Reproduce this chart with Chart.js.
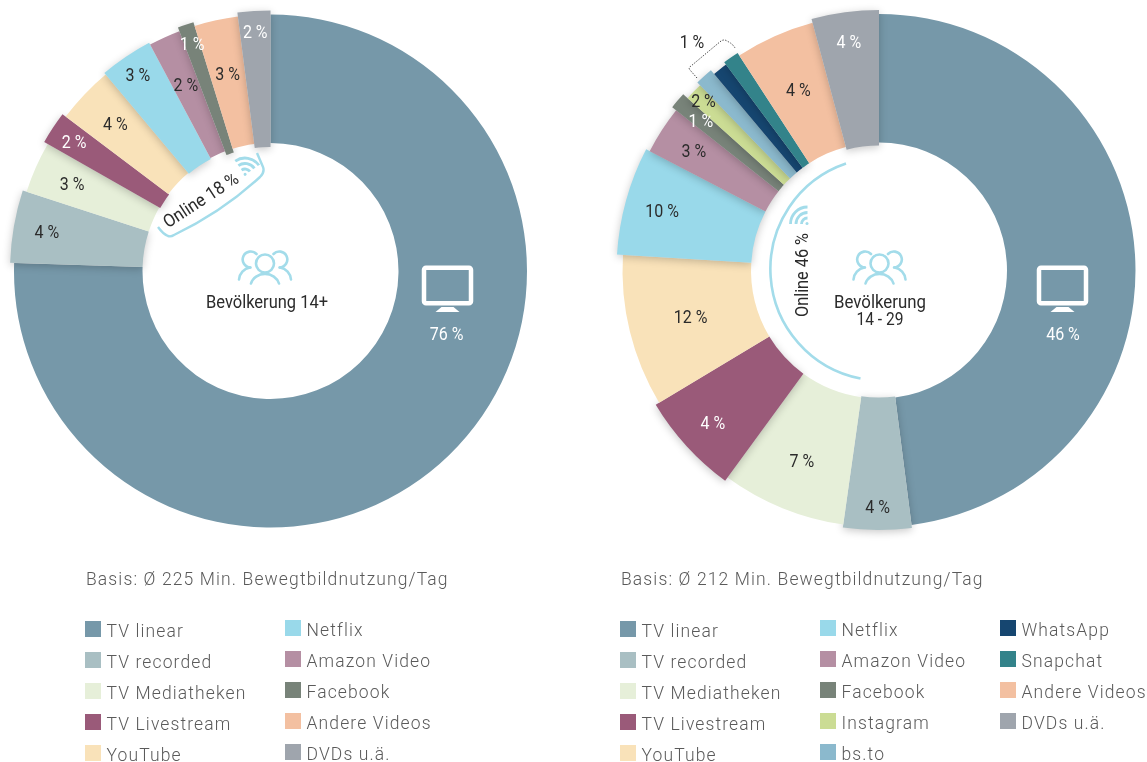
<!DOCTYPE html>
<html><head><meta charset="utf-8">
<script src="https://cdn.jsdelivr.net/npm/chart.js@4"></script>
<style>
html,body{margin:0;padding:0;background:#fff;width:1147px;height:762px;overflow:hidden}
canvas{position:absolute}
#c1{left:0;top:0}
#c2{left:609px;top:0}
svg{position:absolute;left:0;top:0}
.t{font-family:Roboto,sans-serif;fill:#2b2b2b;font-size:18px}
.l{position:absolute;font-family:Roboto,"Liberation Sans",sans-serif;font-weight:300;color:#5a5a5a;font-size:17.5px;letter-spacing:1.12px;white-space:nowrap;line-height:20px}
.s{position:absolute;width:16px;height:16px}
</style></head><body>
<canvas id="c1" width="541" height="542" style="width:541px;height:542px"></canvas>
<canvas id="c2" width="540" height="541" style="width:540px;height:541px"></canvas>
<svg id="ov" width="1147" height="762" xmlns="http://www.w3.org/2000/svg"></svg>
<div id="legend"></div>
<script>
// ---- data
const categoriesA = ["TV linear","TV recorded","TV Mediatheken","TV Livestream","YouTube","Netflix","Amazon Video","Facebook","Andere Videos","DVDs u.ä."];
const sharesA = [75.5,4.5,3.25,2.03,3.61,3.33,2.0,1.0,2.75,2.03];
const printedA = ["76 %","4 %","3 %","2 %","4 %","3 %","2 %","1 %","3 %","2 %"];
const categoriesB = ["TV linear","TV recorded","TV Mediatheken","TV Livestream","YouTube","Netflix","Amazon Video","Facebook","Instagram","bs.to","WhatsApp","Snapchat","Andere Videos","DVDs u.ä."];
const sharesB = [47.97,4.25,7.83,6.33,9.58,6.67,3.0,1.03,1.11,1.11,0.94,1.0,5.0,4.17];
const printedB = ["46 %","4 %","7 %","4 %","12 %","10 %","3 %","1 %","2 %","","","","4 %","4 %"];
// ---- styling
const colorOf = {"TV linear":"#7698a9","TV recorded":"#a9bfc3","TV Mediatheken":"#e6efd9","TV Livestream":"#9a5a79","YouTube":"#f9e2b9","Netflix":"#99d9ea","Amazon Video":"#b58fa3","Facebook":"#788379","Instagram":"#cbdc94","bs.to":"#8bb9cd","WhatsApp":"#164670","Snapchat":"#33838a","Andere Videos":"#f3c0a1","DVDs u.ä.":"#9fa5ad"};
const lightLabel = new Set(["TV linear","TV Livestream","Facebook","DVDs u.ä."]);
const growA = [0,[4,0],0,[4,1],0,[2,1],0,[4,4],0,[4,4]];
const growB = [0,[3,1],0,[4,0],0,[6,0],[2,0],[7,0],[1,0],[5,0],[0,0],[3,0],0,[4,3]];
const labelRA = [187,227,217,235,214,237,205,241,202,239.5];
const labelAA = [109.6,null,null,null,null,null,null,null,null,null];
const labelRB = [194.6,236.5,205,225,194,225,220.5,233,244,0,0,0,198,230.5];
const labelAB = [109,null,null,null,null,null,null,null,null,null,null,null,null,null];

const popPlugin = {
  id:'pop',
  afterDatasetUpdate(chart){
    const cfg = chart.options.plugins.pop;
    chart.getDatasetMeta(0).data.forEach((arc,i)=>{
      const g = cfg.grow[i];
      if(!g) return;
      arc.outerRadius += g[0];
      arc.innerRadius -= g[1];
      const proto = Object.getPrototypeOf(arc);
      arc.draw = function(ctx,area){
        ctx.save();
        ctx.shadowColor='rgba(0,0,0,.22)';ctx.shadowBlur=9;ctx.shadowOffsetX=0;ctx.shadowOffsetY=2;
        proto.draw.call(this,ctx,area);
        ctx.restore();
      };
    });
  },
  afterDatasetsDraw(chart){
    const cfg = chart.options.plugins.pop, ctx = chart.ctx;
    const arcs = chart.getDatasetMeta(0).data;
    arcs.forEach((arc,i)=>{
      const txt = cfg.printed[i]; if(!txt) return;
      const mid = (arc.startAngle+arc.endAngle)/2;
      const a = cfg.labelA[i]==null ? mid : (cfg.labelA[i]-90)*Math.PI/180;
      const r = cfg.labelR[i];
      ctx.save();
      ctx.textAlign='center';ctx.textBaseline='middle';
      ctx.font='18px Roboto,sans-serif';
      ctx.fillStyle = lightLabel.has(chart.data.labels[i]) ? '#ffffff' : '#2b2b2b';
      ctx.translate(arc.x+Math.cos(a)*r, arc.y+Math.sin(a)*r+2);
      ctx.scale(.89,1);
      ctx.fillText(txt,0,0);
      ctx.restore();
    });
  }
};
function donut(id,cats,vals,printed,grow,labelR,labelA){
  return new Chart(document.getElementById(id),{
    type:'doughnut',
    plugins:[popPlugin],
    data:{labels:cats,datasets:[{data:vals,backgroundColor:cats.map(c=>colorOf[c]),borderWidth:0}]},
    options:{responsive:false,animation:false,radius:256.5,cutout:'49.9%',
      layout:{padding:0},
      plugins:{legend:{display:false},tooltip:{enabled:false},pop:{grow,printed,labelR,labelA}}}
  });
}
donut('c1',categoriesA,sharesA,printedA,growA,labelRA,labelAA);
donut('c2',categoriesB,sharesB,printedB,growB,labelRB,labelAB);

// ---- annotations (icons, captions)
const BL='#a3dcea';
function people(x,y){return `<g transform="translate(${x} ${y})" fill="none" stroke="${BL}" stroke-width="2.6" stroke-linecap="round">
<circle cx="0" cy="-1" r="9"/><path d="M-14 19a14.5 13 0 0 1 28 0"/>
<path d="M-8.5 -10.5a8 8 0 1 0-6 13.5M8.5 -10.5a8 8 0 1 1 6 13.5"/><path d="M-26 15a13 13 0 0 1 11-12M26 15a13 13 0 0 0-11-12"/></g>`}
function tv(x,y){return `<g transform="translate(${x} ${y})"><rect x="-23.500" y="-17.800" width="47" height="35.500" rx="2" fill="none" stroke="#fff" stroke-width="4.500"/><path d="M-6 21.500h12l6 5h-24z" fill="#fff"/></g>`}
function wifi(x,y,rot){return `<g transform="translate(${x} ${y}) rotate(${rot})" fill="none" stroke="${BL}" stroke-width="2.800"><path d="M-6 0a6 6 0 0 1 6-6M-11.500 0a11.500 11.500 0 0 1 11.500-11.500M-17 0a17 17 0 0 1 17-17"/><circle cx="-.500" cy="-.500" r="1.500" fill="${BL}" stroke="none"/></g>`}
document.getElementById('ov').innerHTML =
 tv(447.5,285.5)+tv(1062.5,285.5)+people(265,264.5)+people(879.5,264.5)+
 `<text class="t" x="267" y="308" text-anchor="middle" textLength="122" lengthAdjust="spacingAndGlyphs">Bevölkerung 14+</text>
  <text class="t" x="880" y="308" text-anchor="middle" textLength="92" lengthAdjust="spacingAndGlyphs">Bevölkerung</text>
  <text class="t" x="880" y="325" text-anchor="middle" textLength="47" lengthAdjust="spacingAndGlyphs">14 - 29</text>
  <text class="t" transform="translate(204 205) rotate(-33)" text-anchor="middle" textLength="86" lengthAdjust="spacingAndGlyphs">Online 18 %</text>
  <text class="t" transform="translate(808 275) rotate(-90)" text-anchor="middle" textLength="84" lengthAdjust="spacingAndGlyphs">Online 46 %</text>
  <text class="t" transform="translate(692 48) scale(.89 1)" text-anchor="middle">1 %</text>
  <path d="M158 227Q163 234 168 236Q171 237 174 235Q222 212 260 177Q265 172 263 167L257 153" fill="none" stroke="${BL}" stroke-width="2.400"/>
  <path d="M846 163.500A111.500 111.500 0 0 0 860.500 378.500" fill="none" stroke="${BL}" stroke-width="2.600"/>
  <path d="M697 78L690 70Q688 68 691 66L721 41Q724 39 727 41Q733 44 735 48" fill="none" stroke="#333" stroke-width=".9" stroke-dasharray="1.400 1.400"/>`+
 wifi(245,175,55)+wifi(807.5,224,0);

const legendColumns = [
 {x:85,items:["TV linear","TV recorded","TV Mediatheken","TV Livestream","YouTube"],dy:0},
 {x:285,items:["Netflix","Amazon Video","Facebook","Andere Videos","DVDs u.ä."],dy:-1},
 {x:620,items:["TV linear","TV recorded","TV Mediatheken","TV Livestream","YouTube"],dy:0},
 {x:820,items:["Netflix","Amazon Video","Facebook","Instagram","bs.to"],dy:-1},
 {x:1000,items:["WhatsApp","Snapchat","Andere Videos","DVDs u.ä."],dy:-1}
];
let html = `<div class="l" style="left:86px;top:569px">Basis: Ø 225 Min. Bewegtbildnutzung/Tag</div><div class="l" style="left:621px;top:569px">Basis: Ø 212 Min. Bewegtbildnutzung/Tag</div>`;
legendColumns.forEach(col=>col.items.forEach((n,i)=>{
  const y = 621+i*31+col.dy;
  html += `<div class="s" style="left:${col.x}px;top:${y}px;background:${colorOf[n]}"></div><div class="l" style="left:${col.x+21.5}px;top:${y}px">${n}</div>`;
}));
document.getElementById('legend').innerHTML = html;
</script>
</body></html>
